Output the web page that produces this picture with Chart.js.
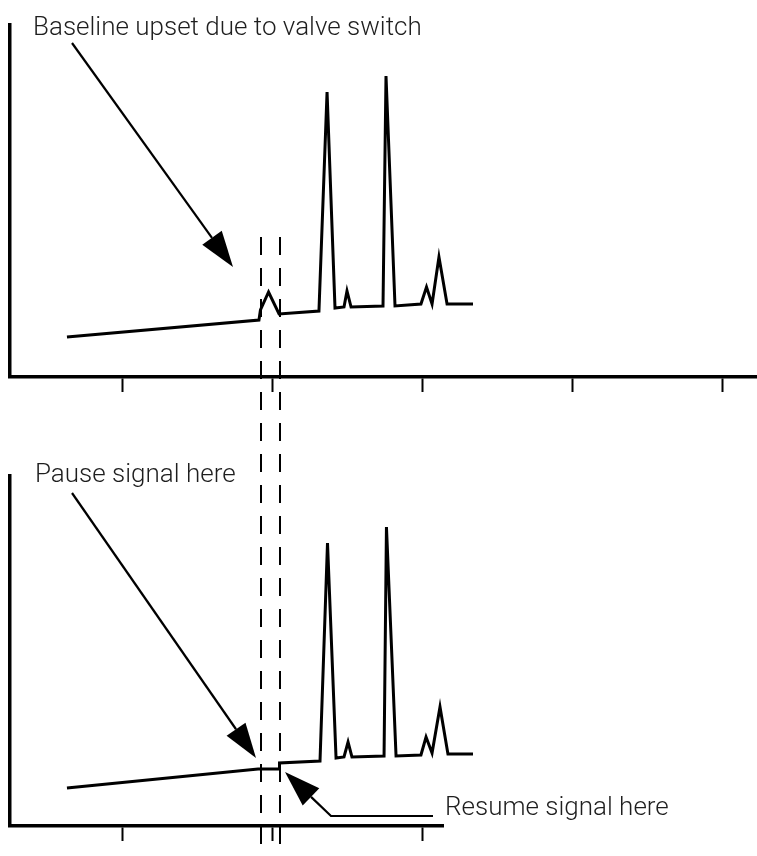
<!DOCTYPE html>
<html>
<head>
<meta charset="utf-8">
<script src="https://cdn.jsdelivr.net/npm/chart.js@4/dist/chart.umd.min.js"></script>
<style>
  html, body { margin: 0; padding: 0; background: #ffffff; }
  #wrap { position: relative; width: 757px; height: 856px; overflow: hidden; }
  canvas { position: absolute; left: 0; }
  #c1 { top: 0; }
  #c2 { top: 428px; }
</style>
</head>
<body>
<div id="wrap">
  <canvas id="c1" width="757" height="428"></canvas>
  <canvas id="c2" width="757" height="428"></canvas>
</div>
<script>
// ---- data (time in min, detector signal in arbitrary units) ----
const tickTimes = [1, 2, 3, 4, 5];

// Top: chromatogram with baseline upset caused by the valve switch
const topTime   = [0.633, 1.913, 1.923, 1.977, 2.047, 2.313, 2.367, 2.420, 2.480, 2.500, 2.527, 2.740, 2.760, 2.820, 2.993, 3.030, 3.067, 3.113, 3.167, 3.340];
const topSignal = [40,    57,    67,    85,    63,    66,    285,   69,    70,    86,    70,    71,    301,   71,    73,    90,    73,    120,   73,    73];

// Bottom: same run with signal paused during the valve switch
const botTime   = [0.633, 1.907, 2.047, 2.050, 2.320, 2.370, 2.427, 2.480, 2.507, 2.533, 2.747, 2.763, 2.827, 2.993, 3.027, 3.067, 3.120, 3.173, 3.340];
const botSignal = [38,    57,    57,    63,    65,    283,   68,    69,    84,    69,    70,    299,   70,    71,    89,    73,    119,   72,    72];

// valve switch window (pause / resume times)
const switchTimes = [1.927, 2.053];

// annotation texts
const topLabel = 'Baseline upset due to valve switch';
const pauseLabel = 'Pause signal here';
const resumeLabel = 'Resume signal here';

// ---- annotation plugin ----
function arrowHead(ctx, x0, y0, x1, y1, len, half) {
  const a = Math.atan2(y1 - y0, x1 - x0);
  const bx = x1 - len * Math.cos(a), by = y1 - len * Math.sin(a);
  ctx.beginPath();
  ctx.moveTo(x1, y1);
  ctx.lineTo(bx + half * Math.sin(a), by - half * Math.cos(a));
  ctx.lineTo(bx - half * Math.sin(a), by + half * Math.cos(a));
  ctx.closePath();
  ctx.fill();
  return [bx, by];
}

const annotPlugin = {
  id: 'annot',
  beforeDatasetsDraw(chart, args, o) {
    const ctx = chart.ctx, xs = chart.scales.x, ys = chart.scales.y;
    ctx.save();
    ctx.strokeStyle = '#000';
    ctx.lineWidth = 2;
    ctx.setLineDash([18, 13]);
    ctx.lineDashOffset = o.dashOffset;
    const y0 = o.dashFrom == null ? 0 : ys.getPixelForValue(o.dashFrom);
    for (const t of switchTimes) {
      const x = Math.round(xs.getPixelForValue(t));
      ctx.beginPath();
      ctx.moveTo(x, y0);
      ctx.lineTo(x, chart.height);
      ctx.stroke();
    }
    ctx.restore();
  },
  afterDraw(chart, args, o) {
    const ctx = chart.ctx, xs = chart.scales.x, ys = chart.scales.y;
    const P = (p) => [xs.getPixelForValue(p[0]), ys.getPixelForValue(p[1])];
    ctx.save();
    ctx.fillStyle = '#1e1e1e';
    ctx.font = '300 26px Roboto';
    ctx.textBaseline = 'alphabetic';
    for (const t of o.texts) {
      const [x, y] = P(t.at);
      ctx.fillText(t.text, x, y, t.maxW);
    }
    ctx.strokeStyle = '#000';
    ctx.fillStyle = '#000';
    ctx.lineWidth = 2.2;
    ctx.lineCap = 'butt';
    for (const ar of o.arrows) {
      const pts = ar.path.map(P);
      const n = pts.length;
      const [x0, y0] = pts[n - 2], [x1, y1] = pts[n - 1];
      const [bx, by] = arrowHead(ctx, x0, y0, x1, y1, ar.len, ar.half);
      ctx.beginPath();
      ctx.moveTo(pts[0][0], pts[0][1]);
      for (let i = 1; i < n - 1; i++) ctx.lineTo(pts[i][0], pts[i][1]);
      ctx.lineTo(bx, by);
      ctx.stroke();
    }
    ctx.restore();
  }
};

function makeChart(id, times, signal, cfg) {
  const data = times.map((t, i) => ({ x: t, y: signal[i] }));
  return new Chart(document.getElementById(id), {
    type: 'line',
    data: { datasets: [{
      data,
      borderColor: '#000',
      borderWidth: 3,
      pointRadius: 0,
      tension: 0,
      borderJoinStyle: 'miter',
      fill: false,
      clip: false
    }] },
    options: {
      responsive: false,
      animation: false,
      devicePixelRatio: 1,
      layout: { padding: cfg.padding },
      plugins: { legend: { display: false }, tooltip: { enabled: false }, annot: cfg.annot },
      scales: {
        x: {
          type: 'linear',
          bounds: 'data',
          // axis span set after data limits so the trace may run past the axis end
          afterDataLimits: (s) => { s.min = cfg.xMin; s.max = cfg.xMax; },
          afterBuildTicks: (s) => { s.ticks = tickTimes.filter(v => v <= cfg.xMax).map(v => ({ value: v })); },
          afterFit: (s) => { s.height = cfg.xHeight; },
          ticks: { display: false },
          grid: { drawOnChartArea: false, drawTicks: true, tickLength: 15, tickWidth: 2, tickColor: '#000' },
          border: { display: true, color: '#000', width: 3.5 }
        },
        y: {
          type: 'linear',
          min: 0, max: cfg.yMax,
          afterFit: (s) => { s.width = 10; },
          ticks: { display: false },
          grid: { drawOnChartArea: false, drawTicks: false },
          border: { display: true, color: '#000', width: 3.5 }
        }
      }
    },
    plugins: [annotPlugin]
  });
}

makeChart('c1', topTime, topSignal, {
  padding: { top: 25, right: 0, left: 0, bottom: 0 },
  xMin: 0.2533, xMax: 5.2333, xHeight: 51, yMax: 352,
  annot: {
    dashFrom: 140, dashOffset: 0,
    texts: [{ text: topLabel, at: [0.4067, 342], maxW: 392 }],
    arrows: [{ path: [[0.6667, 334], [1.74, 110]], len: 36, half: 12 }]
  }
});

makeChart('c2', botTime, botSignal, {
  padding: { top: 48, right: 314, left: 0, bottom: 0 },
  xMin: 0.2533, xMax: 3.14, xHeight: 30, yMax: 350,
  annot: {
    dashFrom: null, dashOffset: 191,
    texts: [
      { text: pauseLabel, at: [0.42, 344], maxW: 202 },
      { text: resumeLabel, at: [3.1533, 11], maxW: 228 }
    ],
    arrows: [
      { path: [[0.6667, 333], [1.8933, 68]], len: 35, half: 11.5 },
      { path: [[3.0733, 10], [2.3933, 10], [2.0867, 54]], len: 36, half: 12 }
    ]
  }
});
</script>
</body>
</html>
